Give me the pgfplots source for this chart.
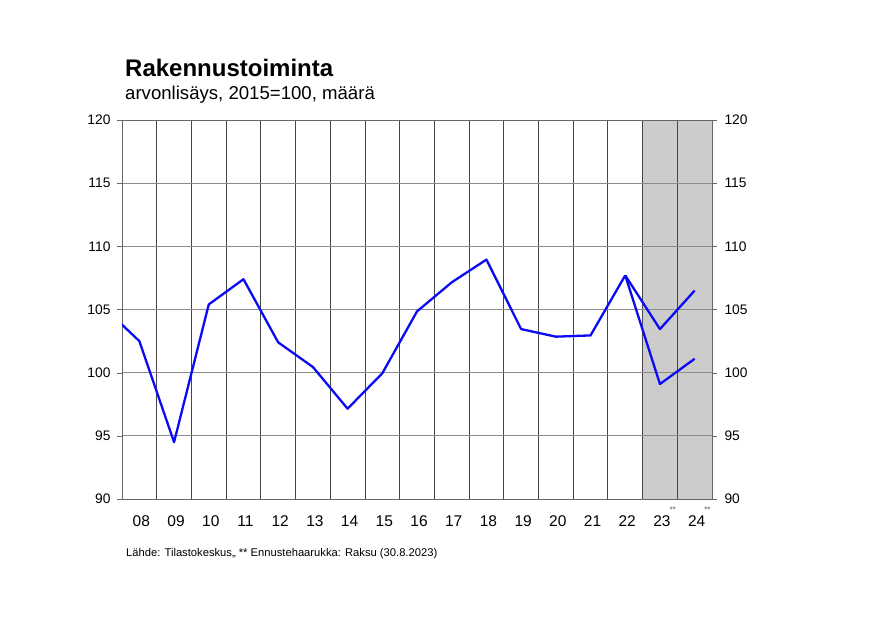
\documentclass[border=0pt]{standalone}
\usepackage{pgfplots}
\usepackage{pgfplotstable}
\pgfplotsset{compat=1.18}
\usepackage{fontspec}
\setmainfont{Liberation Sans}

\definecolor{linebl}{RGB}{10,10,245}
\definecolor{fcshade}{RGB}{204,204,204}

% Arvonlisäys 2015=100, luettu kuvasta
\pgfplotstableread{
year val
7  105.1
8  102.5
9  94.5
10 105.4
11 107.4
12 102.4
13 100.45
14 97.15
15 99.95
16 104.85
17 107.15
18 108.95
19 103.45
20 102.85
21 102.95
22 107.7
}\history
\pgfplotstableread{
year val
22 107.7
23 103.45
24 106.5
}\fchigh
\pgfplotstableread{
year val
22 107.7
23 99.1
24 101.1
}\fclow

\newcommand{\ennuste}{\rlap{\kern-1pt\smash{\raisebox{14pt}{\color{black!70}\fontsize{8}{8}\selectfont **}}}}

\pgfplotsset{
  chartbox/.style={
    at={(122pt,-499pt)}, anchor=south west,
    scale only axis, width=590pt, height=379pt,
    xmin=7.5, xmax=24.5, ymin=90, ymax=120,
  },
}

\begin{document}
\begin{tikzpicture}
\path[use as bounding box] (0pt,0pt) rectangle (885pt,-635pt);

\node[anchor=base west, inner sep=0, font=\bfseries\fontsize{24}{24}\selectfont] at (125pt,-76pt) {Rakennustoiminta};
\node[anchor=base west, inner sep=0, font=\fontsize{18.6}{18.6}\selectfont] at (125pt,-99pt) {arvonlisäys, 2015=100, määrä};
\node[anchor=base west, inner sep=0, font=\fontsize{11.2}{11.2}\selectfont] at (126pt,-556pt) {Lähde: Tilastokeskus,, ** Ennustehaarukka: Raksu (30.8.2023)};

% ennustealue
\begin{axis}[chartbox, hide axis]
  \addplot[fill=fcshade, draw=none] coordinates {(22.5,90) (24.5,90) (24.5,120) (22.5,120)} \closedcycle;
\end{axis}

\begin{axis}[
  chartbox,
  axis line style={black!60},
  ytick={90,95,...,120},
  xtick={8,...,24},
  xticklabels={08,09,10,11,12,13,14,15,16,17,18,19,20,21,22,23\ennuste,24\ennuste},
  minor xtick={8.5,9.5,...,23.5},
  xtick style={draw=none},
  xminorgrids=true, ymajorgrids=true,
  minor grid style={black!72, line width=0.8pt},
  major grid style={black!45, line width=0.8pt},
  tick align=outside, major tick length=5pt,
  ytick pos=left,
  ytick style={black!60},
  yticklabel style={font=\fontsize{13.8}{13.8}\selectfont, xshift=-3pt},
  xticklabel style={font=\fontsize{15.5}{15.5}\selectfont, yshift=-8pt, xshift=2pt},
  /pgf/number format/assume math mode=true,
]
  \addplot[linebl, line width=2.3pt, line join=round] table[x=year, y=val] {\history};
  \addplot[linebl, line width=2.3pt, line join=round] table[x=year, y=val] {\fchigh};
  \addplot[linebl, line width=2.3pt, line join=round] table[x=year, y=val] {\fclow};
\end{axis}

% oikea y-akseli
\begin{axis}[
  chartbox,
  axis x line=none,
  axis y line*=right,
  axis line style={black!60},
  ytick={90,95,...,120},
  tick align=outside, major tick length=5pt,
  ytick style={black!60},
  yticklabel style={font=\fontsize{13.8}{13.8}\selectfont, xshift=4pt},
  /pgf/number format/assume math mode=true,
]
\end{axis}
\end{tikzpicture}
\end{document}
